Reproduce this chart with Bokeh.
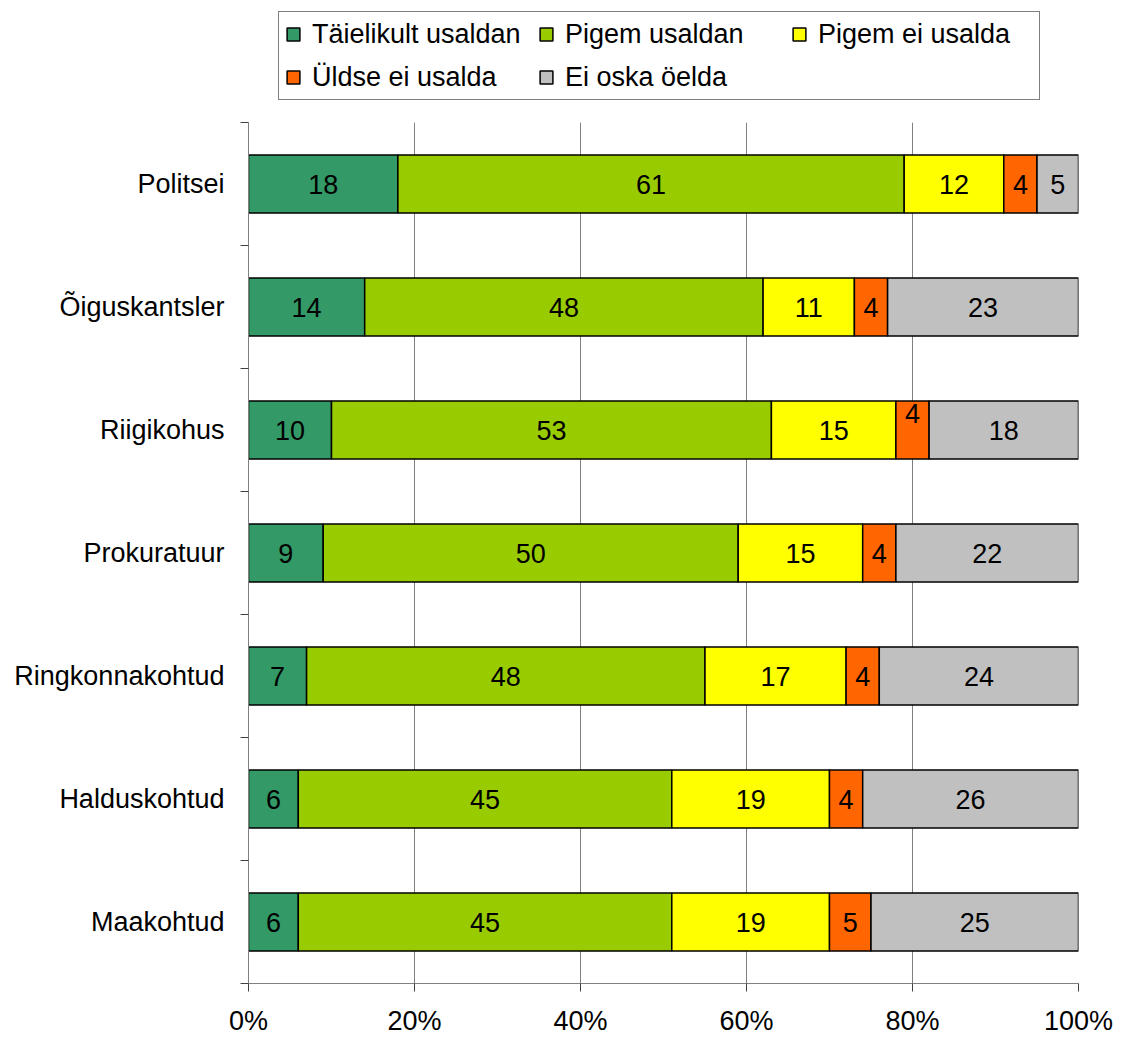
from bokeh.plotting import figure
from bokeh.layouts import column
from bokeh.models import Range1d, FixedTicker, Legend, LegendItem, ColumnDataSource
from bokeh.embed import file_html
from bokeh.resources import INLINE
from bokeh.core.properties import value

categories = ["Politsei", "Õiguskantsler", "Riigikohus", "Prokuratuur",
              "Ringkonnakohtud", "Halduskohtud", "Maakohtud"]
series_names = ["Täielikult usaldan", "Pigem usaldan", "Pigem ei usalda",
                "Üldse ei usalda", "Ei oska öelda"]
taielikult_usaldan = [18, 14, 10, 9, 7, 6, 6]
pigem_usaldan = [61, 48, 53, 50, 48, 45, 45]
pigem_ei_usalda = [12, 11, 15, 15, 17, 19, 19]
uldse_ei_usalda = [4, 4, 4, 4, 4, 4, 5]
ei_oska_oelda = [5, 23, 18, 22, 24, 26, 25]
x_ticks = [0, 20, 40, 60, 80, 100]
x_tick_labels = ["0%", "20%", "40%", "60%", "80%", "100%"]

colors = ["#339966", "#99CC00", "#FFFF00", "#FF6600", "#C0C0C0"]
FONT = "Liberation Sans"

all_series = [taielikult_usaldan, pigem_usaldan, pigem_ei_usalda,
              uldse_ei_usalda, ei_oska_oelda]
n = len(categories)
ycenters = [n - 0.5 - i for i in range(n)]
totals = [sum(s[i] for s in all_series) for i in range(n)]

W = 1122

# ---------------- main chart ----------------
p = figure(width=W, height=920, output_backend="svg", toolbar_location=None,
           x_range=Range1d(0, 100), y_range=Range1d(0, n),
           min_border_left=248, min_border_right=44,
           min_border_top=4, min_border_bottom=53)
p.outline_line_color = None
p.background_fill_color = "white"
p.border_fill_color = "white"

# legend strip (aligned with the main chart's frame by the column layout)
pl = figure(width=W, height=118, output_backend="svg", toolbar_location=None,
            x_range=Range1d(0, 100), y_range=Range1d(-20, -19),
            min_border=0)
pl.axis.visible = False
pl.grid.visible = False
pl.outline_line_color = None
pl.background_fill_color = "white"
pl.border_fill_color = "white"

legend_items = []
lefts = [0.0] * n
label_x, label_y, label_t, label_off = [], [], [], []
for si, (name, vals, col) in enumerate(zip(series_names, all_series, colors)):
    pct = [100.0 * v / t for v, t in zip(vals, totals)]
    left = lefts[:]
    right = [l + w for l, w in zip(left, pct)]
    src = ColumnDataSource(dict(y=ycenters, left=left, right=right))
    p.hbar(y="y", left="left", right="right", height=0.47, source=src,
           fill_color=col, line_color="black", line_width=1.5)
    # hidden twin in the legend strip: only used to draw the legend swatch
    r = pl.hbar(y="y", left="left", right="right", height=0.47, source=src,
                fill_color=col, line_color="black", line_width=1.5)
    r.visible = False
    legend_items.append(LegendItem(label=name, renderers=[r]))
    for i in range(n):
        label_x.append((left[i] + right[i]) / 2)
        label_y.append(ycenters[i])
        label_t.append(str(vals[i]))
        # small segment label lifted in the original (Riigikohus, Üldse ei usalda)
        label_off.append(-17 if (categories[i] == "Riigikohus" and si == 3) else 0)
    lefts = right

lsrc = ColumnDataSource(dict(x=label_x, y=label_y, t=label_t, off=label_off))
p.text(x="x", y="y", text="t", y_offset="off", source=lsrc,
       text_align="center", text_baseline="middle",
       text_font=value(FONT), text_font_size="27px", text_color="black")

p.xaxis.ticker = FixedTicker(ticks=x_ticks)
p.xaxis.major_label_overrides = {t: l for t, l in zip(x_ticks, x_tick_labels)}
p.xaxis.major_label_text_font = FONT
p.xaxis.major_label_text_font_size = "27px"
p.xaxis.major_label_text_color = "black"
p.xaxis.major_tick_out = 8
p.xaxis.major_tick_in = 0
p.xaxis.major_tick_line_color = "#404040"
p.xaxis.minor_tick_line_color = None
p.xaxis.axis_line_color = "#808080"
p.xaxis.major_label_standoff = 14

p.yaxis.ticker = FixedTicker(ticks=ycenters, minor_ticks=list(range(n + 1)))
p.yaxis.major_label_overrides = {y: c for y, c in zip(ycenters, categories)}
p.yaxis.major_label_text_font = FONT
p.yaxis.major_label_text_font_size = "27px"
p.yaxis.major_label_text_color = "black"
p.yaxis.major_tick_line_color = None
p.yaxis.major_tick_out = 0
p.yaxis.major_tick_in = 0
p.yaxis.minor_tick_out = 8
p.yaxis.minor_tick_in = 0
p.yaxis.minor_tick_line_color = "#404040"
p.yaxis.axis_line_color = "#808080"
p.yaxis.major_label_standoff = 16

p.xgrid.ticker = FixedTicker(ticks=x_ticks)
p.xgrid.grid_line_color = "#808080"
p.xgrid.grid_line_width = 1
p.ygrid.grid_line_color = None

legend = Legend(items=legend_items, ncols=3, orientation="horizontal",
                location=(30, 18))
legend.label_text_font = FONT
legend.label_text_font_size = "27px"
legend.label_text_color = "black"
legend.glyph_width = 16
legend.glyph_height = 16
legend.label_standoff = 11
legend.label_width = 215
legend.label_height = 32
legend.spacing = 11
legend.padding = 6
legend.margin = 0
legend.border_line_color = "black"
legend.border_line_width = 1
legend.background_fill_color = "white"
legend.background_fill_alpha = 1
pl.add_layout(legend, "center")

layout = column(pl, p, spacing=0)
open("out.html", "w").write(file_html(layout, INLINE))
